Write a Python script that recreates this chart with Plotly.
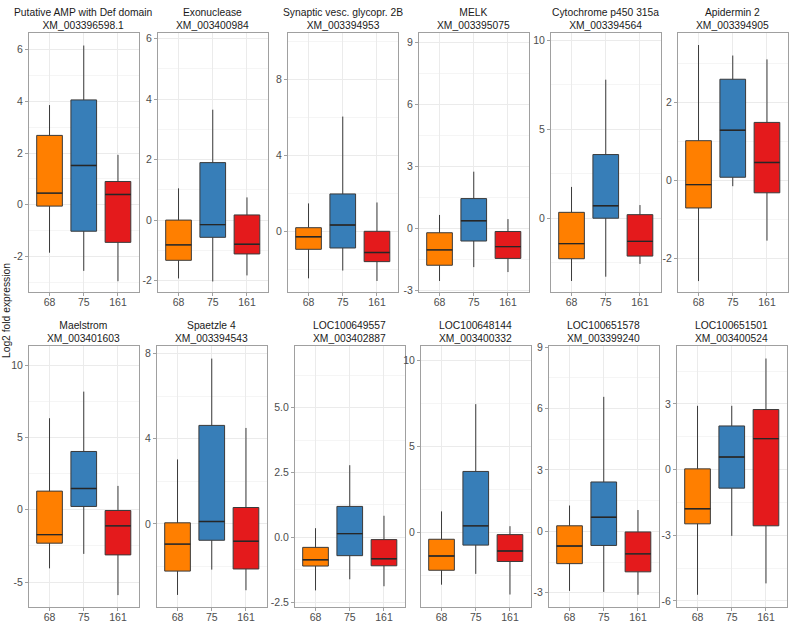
import math
import plotly.graph_objects as go

categories = ["68", "75", "161"]

gene_names = [
    "Putative AMP with Def domain", "Exonuclease", "Synaptic vesc. glycopr. 2B",
    "MELK", "Cytochrome p450 315a", "Apidermin 2",
    "Maelstrom", "Spaetzle 4", "LOC100649557",
    "LOC100648144", "LOC100651578", "LOC100651501",
]
accessions = [
    "XM_003396598.1", "XM_003400984", "XM_003394953",
    "XM_003395075", "XM_003394564", "XM_003394905",
    "XM_003401603", "XM_003394543", "XM_003402887",
    "XM_003400332", "XM_003399240", "XM_003400524",
]

# per panel: values for categories 68, 75, 161
whisker_low = [
    [-1.85, -2.55, -2.95], [-1.93, -2.03, -1.83], [-2.48, -2.07, -2.62],
    [-2.53, -1.86, -2.10], [-3.53, -3.29, -2.57], [-2.59, -0.15, -1.55],
    [-4.05, -3.05, -5.90], [-3.34, -2.15, -3.12], [-2.05, -1.62, -1.89],
    [-3.04, -2.41, -3.61], [-2.91, -2.96, -3.10], [-5.72, -3.03, -5.20],
]
quart_1 = [
    [-0.05, -1.02, -1.45], [-1.33, -0.57, -1.12], [-0.95, -0.88, -1.60],
    [-1.77, -0.60, -1.44], [-2.28, 0.00, -2.13], [-0.71, 0.08, -0.32],
    [-2.31, 0.23, -3.12], [-2.22, -0.77, -2.12], [-1.11, -0.71, -1.10],
    [-2.20, -0.74, -1.69], [-1.58, -0.69, -1.98], [-2.48, -0.85, -2.57],
]
medians = [
    [0.45, 1.52, 0.40], [-0.82, -0.15, -0.80], [-0.29, 0.33, -1.12],
    [-1.03, 0.38, -0.87], [-1.43, 0.70, -1.30], [-0.11, 1.29, 0.46],
    [-1.72, 1.47, -1.11], [-0.95, 0.11, -0.82], [-0.87, 0.14, -0.83],
    [-1.37, 0.38, -1.08], [-0.72, 0.69, -1.10], [-1.79, 0.57, 1.41],
]
quart_3 = [
    [2.68, 4.05, 0.90], [0.00, 1.90, 0.17], [0.19, 1.97, 0.00],
    [-0.20, 1.45, -0.14], [0.33, 3.58, 0.20], [1.02, 2.60, 1.49],
    [1.29, 4.03, -0.05], [0.05, 4.63, 0.77], [-0.39, 1.19, -0.09],
    [-0.40, 3.54, -0.13], [0.27, 2.41, -0.03], [0.03, 1.99, 2.74],
]
whisker_high = [
    [3.85, 6.15, 1.93], [1.05, 3.65, 0.75], [1.47, 6.05, 1.52],
    [0.66, 2.75, 0.46], [1.76, 7.79, 0.74], [3.48, 3.21, 3.11],
    [6.33, 8.17, 1.65], [3.03, 7.77, 4.51], [0.35, 2.78, 0.83],
    [1.22, 7.45, 0.36], [1.26, 6.57, 1.04], [2.91, 2.91, 5.07],
]
# free y scale limits of each panel
y_limits = [
    [-3.38, 6.65], [-2.39, 6.20], [-3.22, 10.48],
    [-3.08, 9.47], [-4.17, 10.44], [-2.88, 3.80],
    [-6.74, 11.29], [-3.92, 8.34], [-2.70, 7.36],
    [-4.35, 10.80], [-3.71, 9.03], [-6.29, 5.62],
]
tick_steps = [2, 2, 4, 3, 5, 2, 5, 4, 2.5, 5, 3, 3]

colors = ["#FF7F00", "#377EB8", "#E41A1C"]

W, H = 789, 627
row_lefts = [[29, 158, 288, 419, 551, 678], [29, 157, 295, 421, 549, 677]]
pw = 109.5
row_tb = [(27, 291), (346, 611)]

FONT = "Liberation Sans, Arial, sans-serif"

fig = go.Figure()
layout_axes = {}
annotations = []

for i in range(12):
    r, c = divmod(i, 6)
    n = i + 1
    xa = "x" if n == 1 else f"x{n}"
    ya = "y" if n == 1 else f"y{n}"
    for j, cat in enumerate(categories):
        fig.add_trace(go.Box(
            x=[cat], q1=[quart_1[i][j]], median=[medians[i][j]], q3=[quart_3[i][j]],
            lowerfence=[whisker_low[i][j]], upperfence=[whisker_high[i][j]],
            fillcolor=colors[j], line=dict(color="#3a3a3a", width=1),
            whiskerwidth=0, width=0.75, boxpoints=False,
            xaxis=xa, yaxis=ya, showlegend=False, hoverinfo="skip",
        ))
        # thicker median bar (ggplot fatten)
        m = medians[i][j]
        fig.add_trace(go.Box(
            x=[cat], q1=[m], median=[m], q3=[m], lowerfence=[m], upperfence=[m],
            fillcolor="rgba(0,0,0,0)", line=dict(color="#262626", width=1.4),
            whiskerwidth=0, width=0.75, boxpoints=False,
            xaxis=xa, yaxis=ya, showlegend=False, hoverinfo="skip",
        ))
    y0, y1 = y_limits[i]
    step = tick_steps[i]
    ticks = [k * step for k in range(math.ceil(y0 / step), math.floor(y1 / step) + 1)]
    minors = [(k + 0.5) * step for k in range(math.floor(y0 / step) - 1, math.ceil(y1 / step) + 1)
              if y0 <= (k + 0.5) * step <= y1]
    if step % 1:
        ttext = [f"{t:.1f}".replace("-0.0", "0.0") for t in ticks]
    else:
        ttext = [str(int(round(t))) for t in ticks]

    left = row_lefts[r][c]
    top, bottom = row_tb[r]
    xkey = "xaxis" if n == 1 else f"xaxis{n}"
    ykey = "yaxis" if n == 1 else f"yaxis{n}"
    layout_axes[xkey] = dict(
        domain=[left / W, (left + pw) / W], anchor=ya, type="category",
        categoryorder="array", categoryarray=categories, range=[-0.6, 2.6],
        showline=True, mirror=True, linecolor="#a0a0a0", linewidth=1,
        ticks="outside", ticklen=3, tickcolor="#a0a0a0", ticklabelstandoff=-3,
        tickfont=dict(size=10.5, color="#4d4d4d", family=FONT),
        showgrid=True, gridcolor="#ebebeb", zeroline=False, fixedrange=True,
    )
    layout_axes[ykey] = dict(
        domain=[1 - bottom / H, 1 - top / H], anchor=xa, range=[y0, y1],
        tickmode="array", tickvals=ticks, ticktext=ttext,
        minor=dict(tickvals=minors, showgrid=True, gridcolor="#f5f5f5", ticks=""),
        showline=True, mirror=True, linecolor="#a0a0a0", linewidth=1,
        ticks="outside", ticklen=3, tickcolor="#a0a0a0",
        tickfont=dict(size=10.5, color="#4d4d4d", family=FONT),
        showgrid=True, gridcolor="#ebebeb", zeroline=False, fixedrange=True,
    )
    annotations.append(dict(
        x=(left + pw / 2) / W, y=1 - top / H, xref="paper", yref="paper",
        xanchor="center", yanchor="bottom", showarrow=False, yshift=0,
        text=f"{gene_names[i]}<br>{accessions[i]}",
        font=dict(size=10.3, color="#1a1a1a", family=FONT),
    ))

annotations.append(dict(
    x=6 / W, y=1 - 310 / H, xref="paper", yref="paper", xanchor="center", yanchor="middle",
    showarrow=False, textangle=-90, text="Log2 fold expression",
    font=dict(size=10.3, color="#1a1a1a", family=FONT),
))

fig.update_layout(
    width=W, height=H, autosize=False,
    margin=dict(l=0, r=0, t=0, b=0),
    paper_bgcolor="white", plot_bgcolor="white",
    boxmode="overlay", showlegend=False,
    annotations=annotations,
    **layout_axes,
)

fig.write_html(
    "out.html",
    config={"displayModeBar": False, "staticPlot": True},
    post_script="document.body.style.margin='0';document.body.style.overflow='hidden';",
)
